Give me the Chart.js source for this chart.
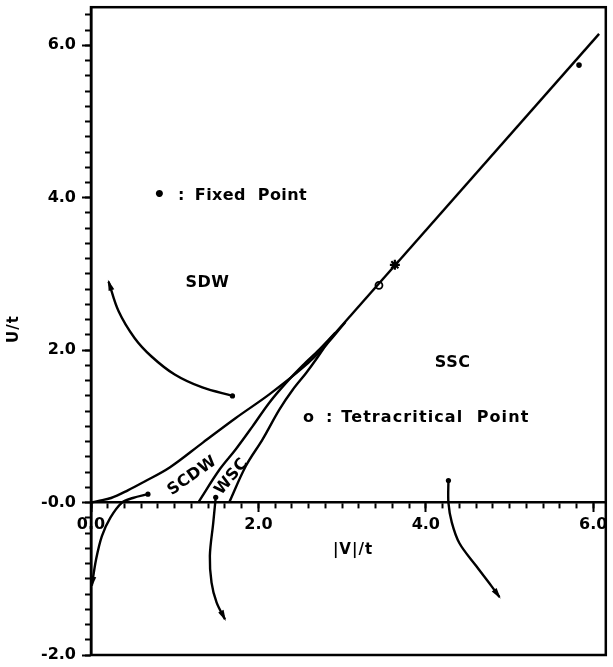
<!DOCTYPE html>
<html>
<head>
<meta charset="utf-8">
<script src="https://cdn.jsdelivr.net/npm/chart.js@4.4.1/dist/chart.umd.min.js"></script>
<style>
html,body{margin:0;padding:0;background:#fff;}
#wrap{width:613px;height:667px;position:relative;}
</style>
</head>
<body>
<div id="wrap"><canvas id="c"></canvas></div>
<script>
// ---------- data ----------
const xTickLabels = ['0.0', '2.0', '4.0', '6.0'];
const xTickValues = [0, 2, 4, 6];
const yTickLabels = ['-2.0', '-0.0', '2.0', '4.0', '6.0'];
const yTickValues = [-2, 0, 2, 4, 6];
const xAxisTitle = '|V|/t';
const yAxisTitle = 'U/t';

// phase boundaries
const mainLineX = [2.85, 6.07];
const mainLineY = [2.14, 6.15];
const upperBoundaryX = [0, 0.08, 0.24, 0.44, 0.63, 0.94, 1.34, 1.73, 2.13, 2.53, 2.81, 3.04];
const upperBoundaryY = [0, 0.02, 0.06, 0.16, 0.27, 0.46, 0.79, 1.11, 1.42, 1.77, 2.07, 2.37];
const middleBoundaryX = [1.28, 1.54, 1.73, 1.93, 2.13, 2.33, 2.53, 2.73, 2.92];
const middleBoundaryY = [0, 0.44, 0.70, 1.00, 1.31, 1.57, 1.80, 2.01, 2.23];
const lowerBoundaryX = [1.65, 1.85, 2.05, 2.25, 2.41, 2.57, 2.69, 2.82];
const lowerBoundaryY = [0, 0.48, 0.83, 1.22, 1.48, 1.70, 1.88, 2.09];

// flow curves (start dot -> arrow)
const flowSdwX = [1.69, 1.33, 1.00, 0.72, 0.52, 0.33, 0.21];
const flowSdwY = [1.40, 1.51, 1.68, 1.92, 2.16, 2.51, 2.90];
const flowOriginX = [0.68, 0.50, 0.37, 0.23, 0.13, 0.06, 0.01];
const flowOriginY = [0.11, 0.06, 0.00, -0.20, -0.44, -0.75, -1.09];
const flowWscX = [1.49, 1.46, 1.42, 1.44, 1.50, 1.60];
const flowWscY = [0.07, -0.27, -0.70, -1.05, -1.31, -1.53];
const flowSscX = [4.27, 4.27, 4.31, 4.40, 4.60, 4.78, 4.88];
const flowSscY = [0.29, 0.00, -0.26, -0.53, -0.83, -1.09, -1.24];

// special points
const tetracriticalX = [3.44];
const tetracriticalY = [2.85];
const starPointX = [3.63];
const starPointY = [3.12];
const fixedPointX = [5.83];
const fixedPointY = [5.74];

// text annotations
const noteTexts = ['•', ':', 'Fixed  Point', 'SDW', 'SSC', 'o', ':', 'Tetracritical  Point', 'SCDW', 'WSC'];
const noteX = [0.82, 1.08, 1.24, 1.39, 4.32, 2.60, 2.85, 2.99, 1.21, 1.68];
const noteY = [4.02, 4.02, 4.02, 2.88, 1.84, 1.11, 1.11, 1.11, 0.35, 0.34];

// ---------- helpers ----------
const pts = (xs, ys) => xs.map((x, i) => ({x: x, y: ys[i]}));
const minorTicks = (lo, hi) => { const a = []; for (let k = Math.round(lo * 5); k <= Math.round(hi * 5); k++) a.push(k / 5); return a; };
const xMinor = minorTicks(0, 6.0);
const yMinor = minorTicks(-2, 6.4);

const FONT = '"DejaVu Sans", sans-serif';
const black = '#000';

function lineDs(xs, ys, opts) {
  return Object.assign({
    data: pts(xs, ys), showLine: true, borderColor: black, borderWidth: 2.4,
    pointRadius: 0, tension: 0.35, fill: false, xAxisID: 'x', yAxisID: 'y'
  }, opts || {});
}
function flowDs(xs, ys) {
  return lineDs(xs, ys, {
    arrow: true,
    pointRadius: (c) => c.dataIndex === 0 ? 2.6 : 0,
    pointBackgroundColor: black, pointBorderColor: black, pointBorderWidth: 0
  });
}

const datasets = [
  lineDs(mainLineX, mainLineY, {tension: 0}),
  lineDs(upperBoundaryX, upperBoundaryY),
  lineDs(middleBoundaryX, middleBoundaryY),
  lineDs(lowerBoundaryX, lowerBoundaryY),
  flowDs(flowSdwX, flowSdwY),
  flowDs(flowOriginX, flowOriginY),
  flowDs(flowWscX, flowWscY),
  flowDs(flowSscX, flowSscY),
  {data: pts(tetracriticalX, tetracriticalY), showLine: false, pointRadius: 3.5, pointStyle: 'circle',
   pointBackgroundColor: '#fff', pointBorderColor: black, pointBorderWidth: 1.8, xAxisID: 'x', yAxisID: 'y'},
  {data: pts(starPointX, starPointY), showLine: false, pointRadius: 5, pointStyle: 'star',
   pointBackgroundColor: black, pointBorderColor: black, pointBorderWidth: 2.2, xAxisID: 'x', yAxisID: 'y'},
  {data: pts(fixedPointX, fixedPointY), showLine: false, pointRadius: 2.8, pointStyle: 'circle',
   pointBackgroundColor: black, pointBorderColor: black, pointBorderWidth: 0, xAxisID: 'x', yAxisID: 'y'}
];

// ---------- plugins ----------
const framePlugin = {
  id: 'frame',
  afterDraw(chart) {
    const {ctx, chartArea: a} = chart;
    ctx.save();
    ctx.strokeStyle = black; ctx.lineWidth = 2.5;
    ctx.strokeRect(a.left, a.top, a.right - a.left, a.bottom - a.top);
    ctx.restore();
  }
};

const arrowPlugin = {
  id: 'arrows',
  afterDatasetsDraw(chart) {
    const ctx = chart.ctx;
    chart.data.datasets.forEach((ds, i) => {
      if (!ds.arrow) return;
      const pts = chart.getDatasetMeta(i).data;
      const p1 = pts[pts.length - 1], p0 = pts[pts.length - 2];
      const ang = Math.atan2(p1.y - p0.y, p1.x - p0.x);
      const L = 9, W = 3;
      ctx.save();
      ctx.translate(p1.x, p1.y); ctx.rotate(ang);
      ctx.fillStyle = black;
      ctx.beginPath(); ctx.moveTo(2, 0); ctx.lineTo(-L, -W); ctx.lineTo(-L, W); ctx.closePath(); ctx.fill();
      ctx.restore();
    });
  }
};

const notePlugin = {
  id: 'notes',
  afterDatasetsDraw(chart) {
    const {ctx, scales} = chart;
    const sx = scales.x, sy = scales.y;
    ctx.save();
    ctx.fillStyle = black;
    ctx.textBaseline = 'middle';
    noteTexts.forEach((t, i) => {
      const px = sx.getPixelForValue(noteX[i]), py = sy.getPixelForValue(noteY[i]);
      ctx.save();
      ctx.translate(px, py);
      if (t === 'SCDW') ctx.rotate(-35 * Math.PI / 180);
      if (t === 'WSC') ctx.rotate(-50 * Math.PI / 180);
      const left = (t === 'Fixed  Point' || t === 'Tetracritical  Point');
      ctx.textAlign = left ? 'left' : 'center';
      ctx.font = (t === '•' ? 'bold 20px ' : 'bold 16px ') + FONT;
      ctx.letterSpacing = t === 'Tetracritical  Point' ? '1.1px' : (t === 'Fixed  Point' ? '0.4px' : '0.5px');
      ctx.fillText(t, 0, 0);
      ctx.restore();
    });
    // axis titles
    ctx.font = 'bold 15px ' + FONT;
    ctx.letterSpacing = '1px';
    ctx.textAlign = 'center';
    ctx.fillText(xAxisTitle, 353, 550);
    ctx.save();
    ctx.translate(14, 329); ctx.rotate(-Math.PI / 2);
    ctx.fillText(yAxisTitle, 0, 0);
    ctx.restore();
    ctx.restore();
  }
};

// ---------- axes ----------
const tickFont = {family: FONT, size: 16, weight: 'bold'};
function labelFor(values, labels) {
  return (v) => { const k = values.findIndex(u => Math.abs(u - v) < 1e-6); return k >= 0 ? labels[k] : ''; };
}
function noPad(s) { s.paddingTop = 0; s.paddingBottom = 0; s.paddingLeft = 0; s.paddingRight = 0; }

const scales = {
  x: {
    type: 'linear', axis: 'x', position: {y: 0}, min: 0, max: 6.15,
    afterBuildTicks: (s) => { s.ticks = xMinor.map(v => ({value: v})); },
    afterFit: noPad,
    ticks: {autoSkip: false, callback: () => '', font: tickFont},
    grid: {drawOnChartArea: false, drawTicks: true, tickLength: 5, tickWidth: 2, tickColor: black},
    border: {display: true, color: black, width: 2.4}
  },
  xMajor: {
    type: 'linear', axis: 'x', position: {y: 0}, min: 0, max: 6.15,
    afterBuildTicks: (s) => { s.ticks = xTickValues.map(v => ({value: v})); },
    afterFit: noPad,
    ticks: {autoSkip: false, color: black, font: tickFont, padding: 4, callback: labelFor(xTickValues, xTickLabels)},
    grid: {drawOnChartArea: false, drawTicks: true, tickLength: 9, tickWidth: 2, tickColor: black},
    border: {display: false}
  },
  y: {
    type: 'linear', axis: 'y', position: {x: 0}, min: -2, max: 6.5,
    afterBuildTicks: (s) => { s.ticks = yMinor.map(v => ({value: v})); },
    afterFit: noPad,
    ticks: {autoSkip: false, callback: () => '', font: tickFont},
    grid: {drawOnChartArea: false, drawTicks: true, tickLength: 5, tickWidth: 2, tickColor: black},
    border: {display: true, color: black, width: 2.5}
  },
  yMajor: {
    type: 'linear', axis: 'y', position: 'left', min: -2, max: 6.5,
    afterBuildTicks: (s) => { s.ticks = yTickValues.map(v => ({value: v})); },
    afterFit: (s) => { noPad(s); s.width = 91; },
    ticks: {autoSkip: false, color: black, font: tickFont, padding: 6, callback: labelFor(yTickValues, yTickLabels)},
    grid: {drawOnChartArea: false, drawTicks: true, tickLength: 9, tickWidth: 2, tickColor: black},
    border: {display: false}
  }
};

new Chart(document.getElementById('c'), {
  type: 'scatter',
  data: {datasets: datasets},
  options: {
    responsive: true, maintainAspectRatio: false, animation: false,
    layout: {padding: {left: 0, top: 7, right: 6, bottom: 12}},
    plugins: {legend: {display: false}, tooltip: {enabled: false}},
    scales: scales
  },
  plugins: [framePlugin, arrowPlugin, notePlugin]
});
</script>
</body>
</html>
